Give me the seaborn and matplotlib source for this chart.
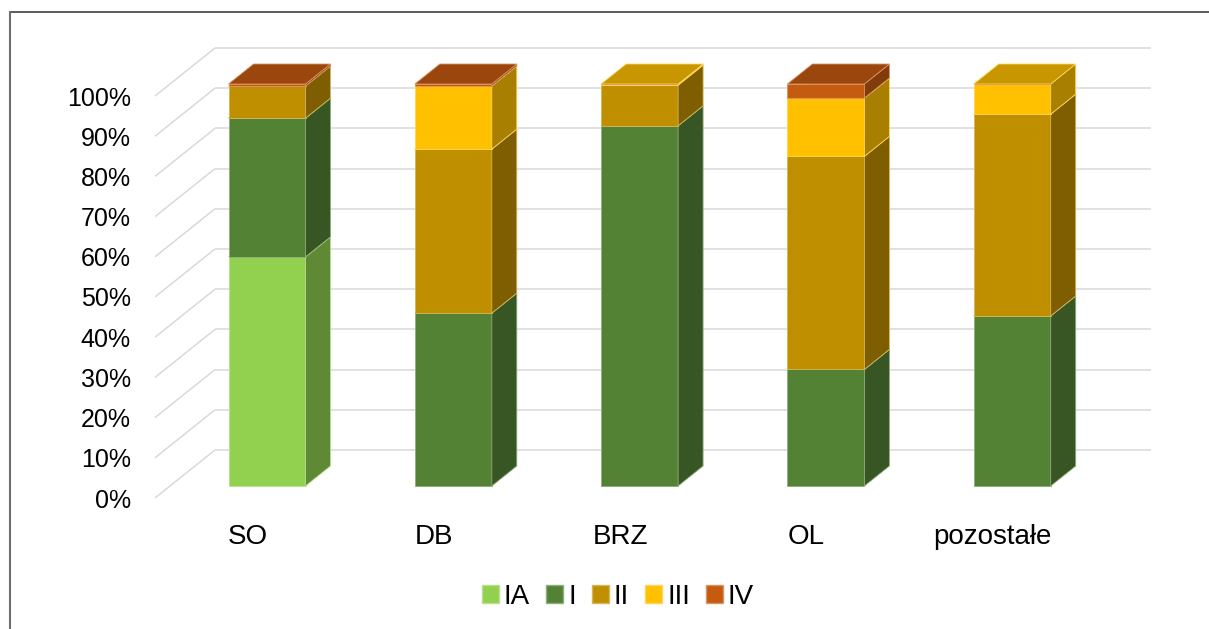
import matplotlib
matplotlib.use("Agg")
import matplotlib.pyplot as plt
import seaborn as sns
from matplotlib.colors import to_rgb
from matplotlib.patches import Polygon, Patch
from matplotlib.lines import Line2D
from matplotlib.transforms import ScaledTranslation

# data (percent of each site)
categories = ["SO", "DB", "BRZ", "OL", "pozostałe"]
classes = ["IA", "I", "II", "III", "IV"]
share_ia = [57.0, 0.0, 0.0, 0.0, 0.0]
share_i = [34.5, 43.0, 89.6, 29.0, 42.3]
share_ii = [8.0, 40.8, 10.1, 53.0, 50.2]
share_iii = [0.0, 15.7, 0.3, 14.5, 7.5]
share_iv = [0.5, 0.5, 0.0, 3.5, 0.0]
yticks = list(range(0, 101, 10))
ytick_labels = [f"{v}%" for v in yticks]

colors = ["#92D050", "#548235", "#BF8F00", "#FFC000", "#C55A11"]

W, H, DPI = 1209, 629, 100
X0_PX, STEP_PX = 267, 186.3      # front centre of first bar, spacing
BASE_PX, UNIT_PX = 486, 4.02     # y pixel of 0 %, pixels per 1 %


def shade(c, f):
    return tuple(v * f for v in to_rgb(c))


def light(c, f=0.35):
    return tuple(v + (1 - v) * f for v in to_rgb(c))


def px(dx, dy):
    # pixel offset (right, up) -> data units
    return dx / STEP_PX, dy / UNIT_PX


sns.set_style("white")
plt.rcParams["font.family"] = ["Liberation Sans", "DejaVu Sans"]
plt.rcParams["text.color"] = "black"

fig = plt.figure(figsize=(W / DPI, H / DPI), dpi=DPI)
ax = fig.add_axes([140 / W, 1 - 520 / H, 1030 / W, 490 / H])

bar_dx, bar_dy = px(25, 20)
layers = [share_ia, share_i, share_ii, share_iii, share_iv]
bottom = [0.0] * len(categories)
for vals, col in zip(layers, colors):
    n0 = len(ax.patches)
    sns.barplot(x=categories, y=vals, bottom=bottom, order=categories,
                color=col, saturation=1, width=77 / STEP_PX,
                edgecolor=light(col), linewidth=0.6, ax=ax, zorder=3)
    for p in ax.patches[n0:]:
        h = p.get_height()
        if h <= 0:
            continue
        x0, y0 = p.get_x(), p.get_y()
        x1, y1 = x0 + p.get_width(), y0 + h
        side = Polygon([(x1, y0), (x1 + bar_dx, y0 + bar_dy),
                        (x1 + bar_dx, y1 + bar_dy), (x1, y1)],
                       closed=True, facecolor=shade(col, 0.66),
                       edgecolor=light(col), lw=0.6, zorder=3)
        top = Polygon([(x0, y1), (x0 + bar_dx, y1 + bar_dy),
                       (x1 + bar_dx, y1 + bar_dy), (x1, y1)],
                      closed=True, facecolor=shade(col, 0.78),
                      edgecolor=light(col), lw=0.6, zorder=3)
        ax.add_patch(side)
        ax.add_patch(top)
    bottom = [b + v for b, v in zip(bottom, vals)]

# walls: gridlines on the back wall plus slanted lines on the side wall
fx, fy = px(-15, -12)
bx, by = px(45, 36)
x_left = (155 + 15 - X0_PX) / STEP_PX
x_right = (1151 - 45 - X0_PX) / STEP_PX
for v in yticks:
    ax.plot([x_left + fx, x_left + bx], [v + fy, v + by],
            color="#D9D9D9", lw=1.1, zorder=1, solid_capstyle="butt")
    ax.plot([x_left + bx, x_right + bx], [v + by, v + by],
            color="#D9D9D9", lw=1.1, zorder=1, solid_capstyle="butt")

ax.set_xlim((140 - X0_PX) / STEP_PX, (1170 - X0_PX) / STEP_PX)
ax.set_ylim((BASE_PX - 520) / UNIT_PX, (BASE_PX - 30) / UNIT_PX)
ax.set_yticks(yticks)
ax.set_yticklabels(ytick_labels)
ax.set_xticks(range(len(categories)))
ax.set_xticklabels(categories)
ax.set_xlabel("")
ax.set_ylabel("")
ax.tick_params(axis="y", length=0, labelsize=18, pad=6.5, labelcolor="black")
ax.tick_params(axis="x", length=0, labelsize=20, pad=3, labelcolor="black")
for s in ax.spines.values():
    s.set_visible(False)
ax.grid(False)

for lab in ax.get_yticklabels():
    lab.set_transform(lab.get_transform() + ScaledTranslation(0, -0.12, fig.dpi_scale_trans))
for lab in ax.get_xticklabels():
    lab.set_transform(lab.get_transform() + ScaledTranslation(-0.195, 0, fig.dpi_scale_trans))

handles = [Patch(facecolor=c, edgecolor=light(c)) for c in colors]
fig.legend(handles, classes, loc="center", bbox_to_anchor=(618 / W, 1 - 597 / H),
           ncol=5, frameon=False, fontsize=20, handlelength=0.61, handleheight=0.61,
           handletextpad=0.18, columnspacing=0.58, borderpad=0, labelcolor="black")

# chart area border
fig.add_artist(Line2D([10 / W, 1], [1 - 12 / H, 1 - 12 / H], transform=fig.transFigure,
                      color="#404040", lw=1.2))
fig.add_artist(Line2D([10 / W, 10 / W], [0, 1 - 12 / H], transform=fig.transFigure,
                      color="#6E6E6E", lw=1.5))

fig.savefig("out.png", dpi=DPI)
